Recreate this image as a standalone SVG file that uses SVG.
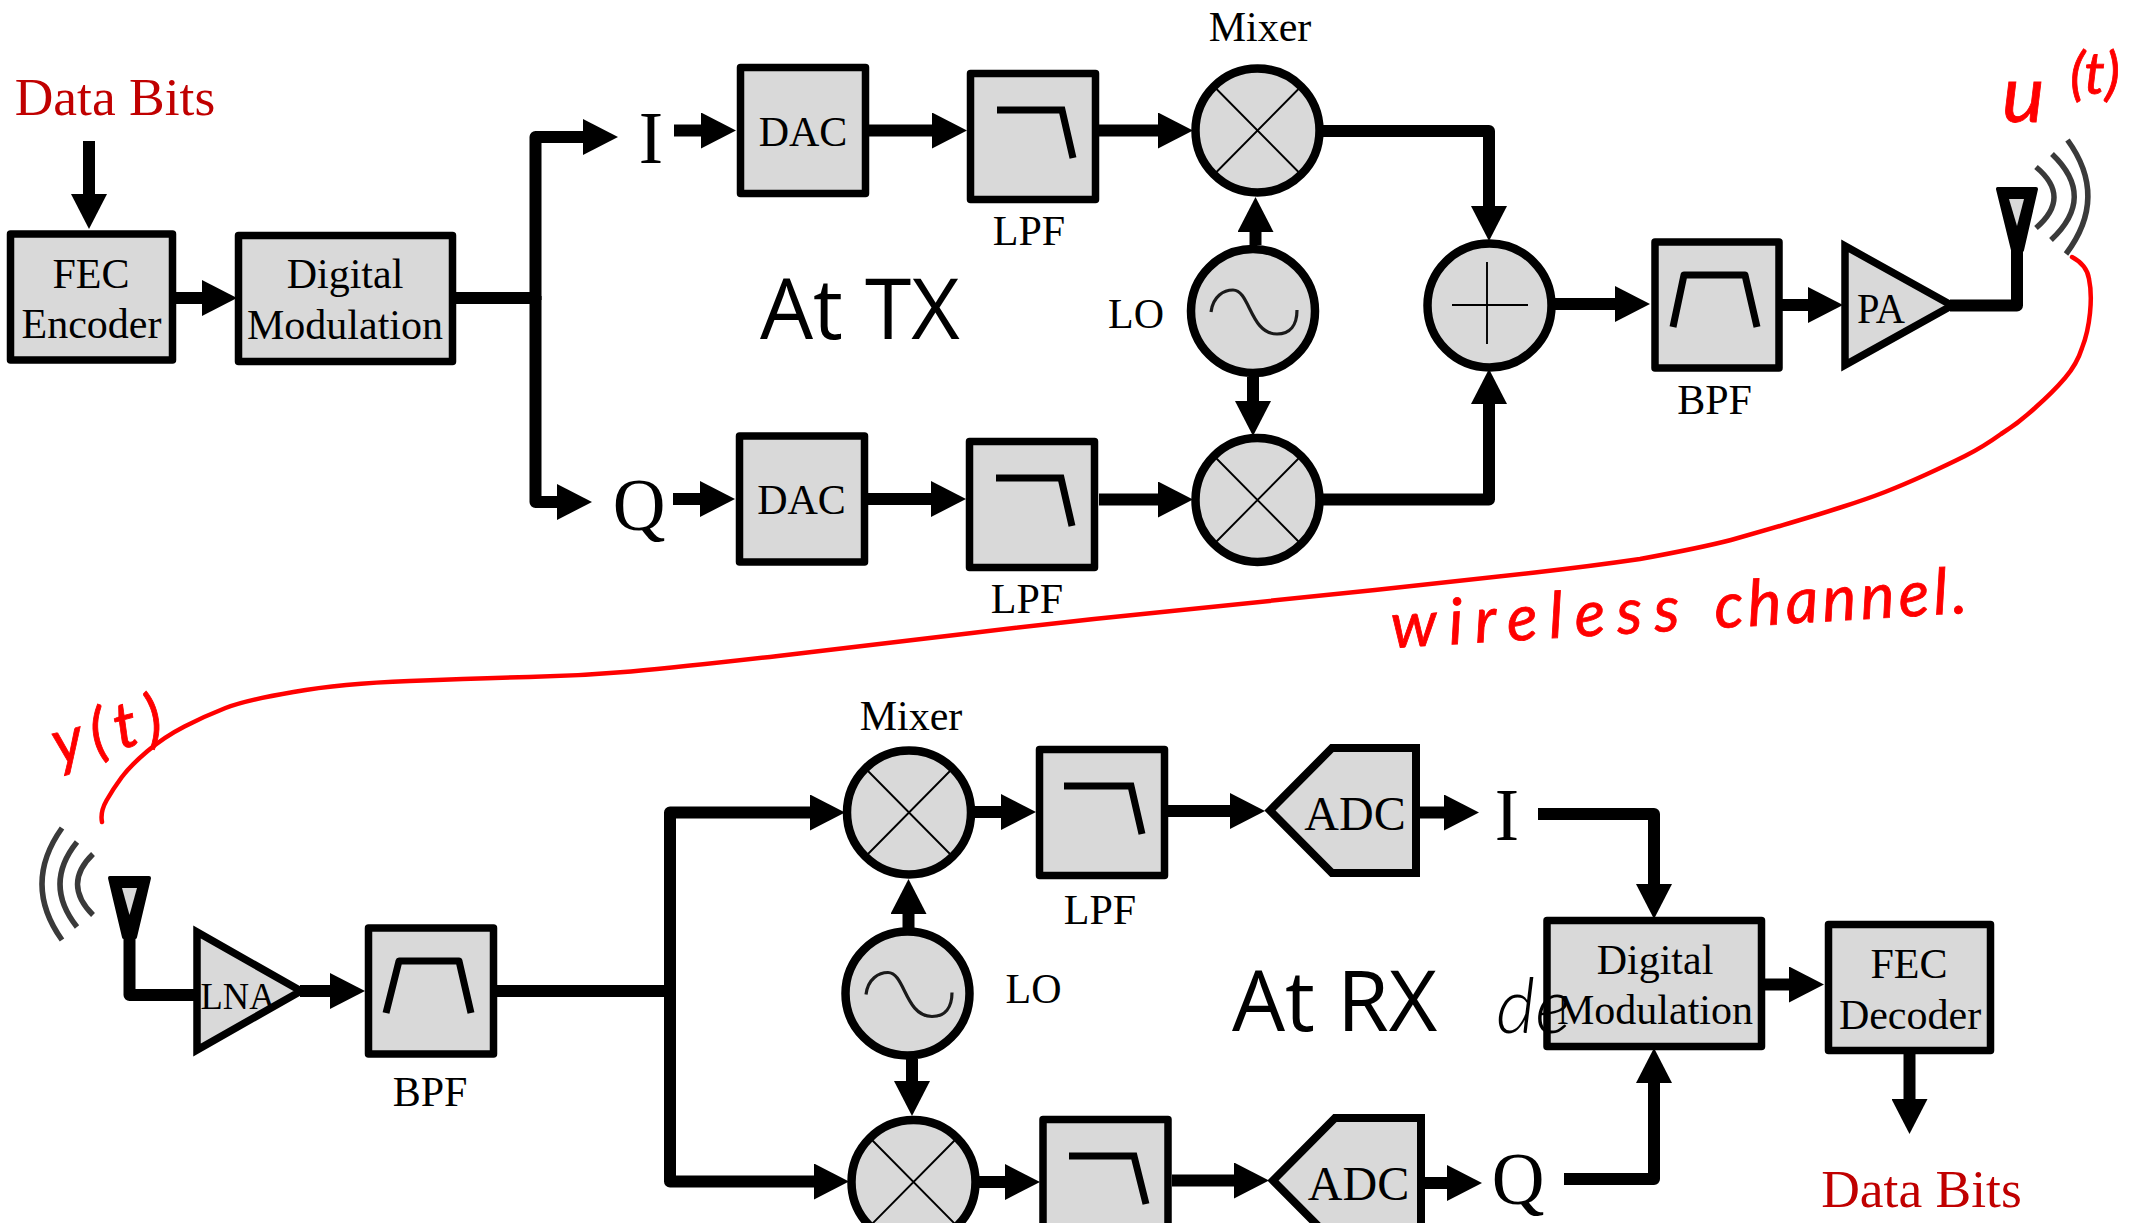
<svg xmlns="http://www.w3.org/2000/svg" width="2134" height="1223" viewBox="0 0 2134 1223">
<style>
.b{fill:#d9d9d9;stroke:#000;stroke-width:7.500;stroke-linejoin:round}
.m{stroke-linejoin:miter;stroke-miterlimit:10}
.c{fill:#d9d9d9;stroke:#000;stroke-width:8.500}
.t{font-family:"Liberation Serif","Times New Roman",serif;font-size:42px;fill:#000;text-anchor:middle;transform:translateY(1px)}
.big{font-size:73px}
.adc{font-size:48px}
.red{fill:#c00000;font-size:53.500px}
.hd{font-family:"Open Sans",sans-serif;font-size:84px;fill:#000}
.ink{font-family:Lato,sans-serif;font-style:italic;fill:#f00;stroke:#f00;stroke-width:.8;font-size:64px}
.w{fill:none;stroke:#000;stroke-width:12;stroke-linejoin:round}
.g{fill:none;stroke:#000;stroke-width:7}
.thin{fill:none;stroke:#000;stroke-width:1.900}
.sin{fill:none;stroke:#1a1a1a;stroke-width:3.200}
.wave{fill:none;stroke:#3a3a3a;stroke-width:5.500}
.ant{fill:#000;stroke:#000;stroke-width:4;stroke-linejoin:round}
.ai{fill:#d9d9d9}
</style>
<defs>
<marker id="ah" viewBox="0 0 35 36" refX="0" refY="18" markerWidth="35" markerHeight="36" markerUnits="userSpaceOnUse" orient="auto"><path d="M0 0L35 18L0 36z" fill="#000"/></marker>
<g id="cross"><path class="thin" d="M-41.500 -42L41.500 42M41.500 -42L-41.500 42"/></g>
<path id="sine" class="sin" d="M-42 1C-40 -15 -29 -21 -20 -21C-3 -21 -3 23 24 23C37 23 44 14 44 -1"/>
</defs>

<g id="connectors">
<path class="w" marker-end="url(#ah)" d="M89 141V194"/>
<path class="w" marker-end="url(#ah)" d="M176 298H202"/>
<path class="w" d="M456 298H535.500"/>
<path class="w" marker-end="url(#ah)" d="M535.500 300V137H583"/>
<path class="w" marker-end="url(#ah)" d="M535.500 296V502H557"/>
<path class="w" marker-end="url(#ah)" d="M674 130.500H701"/>
<path class="w" marker-end="url(#ah)" d="M869 130.500H932"/>
<path class="w" marker-end="url(#ah)" d="M673 499H700"/>
<path class="w" marker-end="url(#ah)" d="M868 499H931"/>
<path class="w" marker-end="url(#ah)" d="M1099 130.500H1158"/>
<path class="w" marker-end="url(#ah)" d="M1099 499.500H1158"/>
<path class="w" marker-end="url(#ah)" d="M1323 131H1489V206"/>
<path class="w" marker-end="url(#ah)" d="M1323 499.500H1489V404"/>
<path class="w" marker-end="url(#ah)" d="M1255.500 245V232"/>
<path class="w" marker-end="url(#ah)" d="M1253 377V401"/>
<path class="w" marker-end="url(#ah)" d="M1555 304H1615"/>
<path class="w" marker-end="url(#ah)" d="M1782 305H1808"/>
<path class="w" d="M1950 305.500H2017V245"/>
<path class="w" d="M129.500 935V995H200"/>
<path class="w" marker-end="url(#ah)" d="M300 991H330"/>
<path class="w" d="M497 991H670"/>
<path class="w" marker-end="url(#ah)" d="M670 993V812.500H810"/>
<path class="w" marker-end="url(#ah)" d="M670 989V1181.500H814"/>
<path class="w" marker-end="url(#ah)" d="M974 812H1001"/>
<path class="w" marker-end="url(#ah)" d="M908.500 928V914"/>
<path class="w" marker-end="url(#ah)" d="M912 1059V1081"/>
<path class="w" marker-end="url(#ah)" d="M979 1182H1005"/>
<path class="w" marker-end="url(#ah)" d="M1168 811H1230"/>
<path class="w" marker-end="url(#ah)" d="M1172 1180.500H1234"/>
<path class="w" marker-end="url(#ah)" d="M1420 812.500H1444"/>
<path class="w" marker-end="url(#ah)" d="M1425 1183H1447"/>
<path class="w" marker-end="url(#ah)" d="M1538 814H1654V884"/>
<path class="w" marker-end="url(#ah)" d="M1564 1179H1654V1083"/>
<path class="w" marker-end="url(#ah)" d="M1765 984.500H1789"/>
<path class="w" marker-end="url(#ah)" d="M1909.500 1054V1099"/>
</g>

<g id="wireless-channel">
<path fill="none" stroke="#f00" stroke-width="4.500" stroke-linecap="round" d="M2072 257Q2087 265 2089 279Q2092 293 2090 313Q2088 333 2082 348Q2077 364 2065 378Q2053 392 2036 407Q2020 422 2001 434Q1983 447 1965 456Q1947 465 1925 475Q1903 485 1885 492Q1867 499 1842 507Q1817 515 1790 523Q1763 531 1731 540Q1700 548 1640 559Q1592 566 1535 572.500Q1477 579 1375 590Q1273.600 600.600 1172 611Q1070 621 972 633Q873.500 645 778 656Q682 667 631 671.500Q580 676 529 677Q478 678 409.500 681Q341 683.500 293.500 692Q246 700 225.500 708Q205 716 184.500 726.500Q164 737 147 751.500Q130 766 121.500 777.500Q113 789 106.500 800.500Q100 812 102 822"/>
<text class="ink" transform="translate(1392 648) rotate(-3.500)"><tspan x="0" y="0" textLength="289">wireless</tspan><tspan x="305" y="0" textLength="272"> channel.</tspan></text>
<text class="ink"><tspan x="2002" y="122" style="font-size:80px">u</tspan><tspan x="2070" y="94" style="font-size:58px">(t)</tspan></text>
<text class="ink" transform="translate(58 766) rotate(-15)" textLength="112">y(t)</text>
</g>

<g id="data-bits-in"><text class="t red" x="115" y="114">Data Bits</text></g>
<g id="fec-encoder"><rect class="b" x="10.500" y="234" width="162" height="126"/><text class="t" x="91" y="287">FEC</text><text class="t" x="91.500" y="337">Encoder</text></g>
<g id="digital-modulation-tx"><rect class="b" x="238.500" y="235.500" width="214" height="126"/><text class="t" x="345" y="287">Digital</text><text class="t" x="345" y="338">Modulation</text></g>
<g id="i-tx"><text class="t big" x="651" y="162">I</text></g>
<g id="q-tx"><text class="t big" x="639" y="529">Q</text></g>
<g id="dac-i"><rect class="b" x="740.500" y="67.500" width="125" height="126"/><text class="t" x="803" y="145">DAC</text></g>
<g id="dac-q"><rect class="b" x="739.500" y="436" width="125" height="126"/><text class="t" x="801.500" y="513">DAC</text></g>
<g id="lpf-i"><rect class="b" x="970.500" y="73.500" width="125" height="126"/><path class="g" d="M997 110H1062L1073 158"/><text class="t" x="1029" y="244">LPF</text></g>
<g id="lpf-q"><rect class="b" x="969.500" y="441.500" width="125" height="126"/><path class="g" d="M996 478H1061L1072 526"/><text class="t" x="1027" y="612">LPF</text></g>
<g id="mixer-i"><circle class="c" cx="1257.500" cy="130.500" r="62"/><use href="#cross" x="1257.500" y="130.500"/><text class="t" x="1260" y="40">Mixer</text></g>
<g id="lo-tx"><circle class="c" cx="1253" cy="311" r="62"/><use href="#sine" x="1253" y="311"/><text class="t" x="1136" y="327">LO</text></g>
<g id="mixer-q"><circle class="c" cx="1257.500" cy="500" r="62"/><use href="#cross" x="1257.500" y="500"/></g>
<g id="adder"><circle class="c" cx="1489.500" cy="305.500" r="62"/><path class="thin" d="M1452 305H1528M1487 262V344"/></g>
<g id="bpf-tx"><rect class="b" x="1655" y="242" width="124" height="126"/><path class="g" stroke-linejoin="round" d="M1673 327L1684 275H1745L1757 327"/><text class="t" x="1714.500" y="413">BPF</text></g>
<g id="pa"><path class="b m" d="M1845 246V365L1952 305.500z"/><text class="t" x="1881" y="322" textLength="48" lengthAdjust="spacingAndGlyphs">PA</text></g>
<g id="antenna-tx"><path class="ant" d="M1998 189H2036L2022 250H2013z"/><path class="ai" d="M2009 199H2024L2017 226z"/><path class="wave" d="M2036 167Q2072 197 2036 228M2052 154Q2097 197 2051 240M2067.500 140Q2109 197 2066 254"/></g>

<g id="antenna-rx"><path class="ant" d="M110 878H149L135 937H124z"/><path class="ai" d="M122 888H137L129.500 915z"/><path class="wave" d="M93 854Q62 884 93 915M77 842Q43 884 77 927M62 828Q22 884 62 940"/></g>
<g id="lna"><path class="b m" d="M197 932V1050L301 991z"/><text class="t" x="238" y="1008" style="font-size:38px" textLength="75" lengthAdjust="spacingAndGlyphs">LNA</text></g>
<g id="bpf-rx"><rect class="b" x="368.500" y="928" width="125" height="126"/><path class="g" stroke-linejoin="round" d="M386 1013L399 961H459L471 1013"/><text class="t" x="430" y="1105">BPF</text></g>
<g id="mixer-rx-i"><circle class="c" cx="909" cy="812.500" r="62"/><use href="#cross" x="909" y="812.500"/><text class="t" x="911" y="729">Mixer</text></g>
<g id="lo-rx"><circle class="c" cx="907.500" cy="993.500" r="62"/><use href="#sine" x="908" y="993.500"/><text class="t" x="1033.500" y="1001.500">LO</text></g>
<g id="mixer-rx-q"><circle class="c" cx="913.500" cy="1182" r="62"/><use href="#cross" x="913.500" y="1182"/></g>
<g id="lpf-rx-i"><rect class="b" x="1039.500" y="749.500" width="125" height="126"/><path class="g" d="M1064 786H1131L1142 834"/><text class="t" x="1100" y="923">LPF</text></g>
<g id="lpf-rx-q"><rect class="b" x="1043" y="1119.500" width="125" height="126"/><path class="g" d="M1069 1156H1134L1146 1204"/></g>
<g id="adc-i"><path class="b m" d="M1270 810.500L1332 748H1416V873H1332z" style="stroke-width:8"/><text class="t adc" x="1355" y="829">ADC</text></g>
<g id="adc-q"><path class="b m" d="M1273 1180.500L1335 1118H1421V1243H1335z" style="stroke-width:8"/><text class="t adc" x="1358.500" y="1198.500">ADC</text></g>
<g id="i-rx"><text class="t big" x="1507" y="839">I</text></g>
<g id="q-rx"><text class="t big" x="1518" y="1203">Q</text></g>
<g id="digital-modulation-rx"><rect class="b" x="1547" y="920.500" width="214.500" height="126"/><text class="t" x="1655" y="973">Digital</text><text class="t" x="1655" y="1022.500">Modulation</text></g>
<g id="fec-decoder"><rect class="b" x="1828.500" y="924.500" width="162" height="126"/><text class="t" x="1909" y="977">FEC</text><text class="t" x="1910" y="1028">Decoder</text></g>
<g id="data-bits-out"><text class="t red" x="1921.500" y="1206">Data Bits</text></g>

<text class="hd" x="760" y="339">At TX</text>
<text class="hd" x="1232" y="1031">At RX</text>
<text class="ink" style="fill:#000;stroke:none;font-weight:300;font-size:76px" x="1496" y="1033">de</text>
</svg>
